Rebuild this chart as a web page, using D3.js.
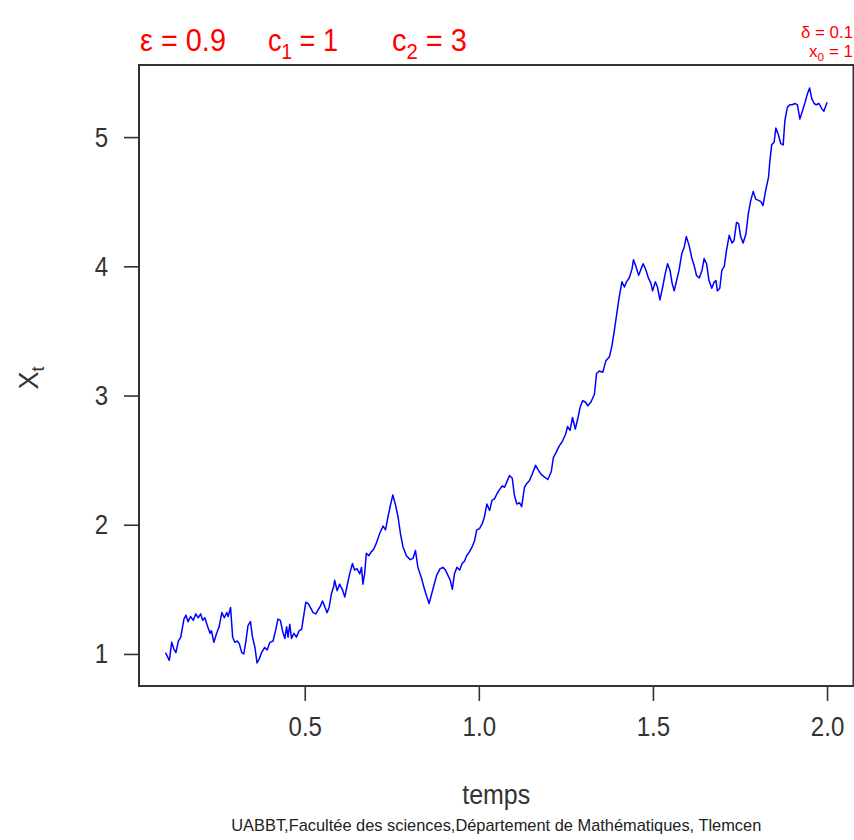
<!DOCTYPE html>
<html>
<head>
<meta charset="utf-8">
<script src="https://cdn.jsdelivr.net/npm/d3@7"></script>
<style>
  body { margin: 0; background: #fff; }
  svg { display: block; font-family: "Liberation Sans", Arial, sans-serif; }
</style>
</head>
<body>
<script>
/////////////////
/// DATA ///
/////////////////

// time points (temps) and path values X_t
var tVals = [0.100, 0.111, 0.118, 0.124, 0.130, 0.137, 0.144, 0.153, 0.159, 0.165,
  0.172, 0.180, 0.187, 0.194, 0.201, 0.207, 0.213, 0.220, 0.228, 0.232,
  0.239, 0.247, 0.254, 0.262, 0.269, 0.276, 0.280, 0.287, 0.293, 0.299,
  0.306, 0.312, 0.319, 0.325, 0.331, 0.337, 0.344, 0.350, 0.357, 0.363,
  0.369, 0.376, 0.385, 0.392, 0.400, 0.409, 0.417, 0.423, 0.430, 0.436,
  0.443, 0.448, 0.452, 0.457, 0.462, 0.469, 0.476, 0.484, 0.491, 0.495,
  0.503, 0.510, 0.516, 0.524, 0.532, 0.538, 0.545, 0.551, 0.557, 0.564,
  0.570, 0.577, 0.583, 0.586, 0.593, 0.600, 0.608, 0.615, 0.621, 0.629,
  0.637, 0.643, 0.650, 0.658, 0.663, 0.667, 0.672, 0.677, 0.684, 0.691,
  0.698, 0.706, 0.715, 0.725, 0.732, 0.739, 0.746, 0.753, 0.761, 0.768,
  0.775, 0.782, 0.792, 0.803, 0.811, 0.818, 0.825, 0.835, 0.844, 0.851,
  0.857, 0.863, 0.870, 0.879, 0.889, 0.897, 0.904, 0.911, 0.918, 0.924,
  0.930, 0.937, 0.945, 0.952, 0.959, 0.965, 0.973, 0.981, 0.988, 0.994,
  1.002, 1.010, 1.016, 1.023, 1.031, 1.038, 1.045, 1.052, 1.059, 1.067,
  1.074, 1.080, 1.088, 1.096, 1.102, 1.109, 1.117, 1.123, 1.131, 1.138,
  1.145, 1.153, 1.163, 1.169, 1.179, 1.188, 1.198, 1.208, 1.214, 1.222,
  1.231, 1.239, 1.249, 1.255, 1.262, 1.269, 1.277, 1.284, 1.291, 1.298,
  1.306, 1.313, 1.322, 1.332, 1.338, 1.346, 1.356, 1.365, 1.375, 1.382,
  1.389, 1.396, 1.403, 1.411, 1.418, 1.424, 1.432, 1.440, 1.444, 1.451,
  1.459, 1.466, 1.472, 1.480, 1.487, 1.494, 1.499, 1.507, 1.513, 1.520,
  1.528, 1.535, 1.542, 1.549, 1.555, 1.561, 1.568, 1.575, 1.583, 1.590,
  1.596, 1.604, 1.612, 1.619, 1.625, 1.633, 1.641, 1.647, 1.654, 1.661,
  1.669, 1.676, 1.681, 1.685, 1.692, 1.698, 1.705, 1.711, 1.719, 1.727,
  1.733, 1.740, 1.746, 1.752, 1.759, 1.767, 1.774, 1.781, 1.788, 1.795,
  1.803, 1.810, 1.816, 1.824, 1.832, 1.836, 1.841, 1.848, 1.853, 1.860,
  1.867, 1.874, 1.879, 1.886, 1.893, 1.900, 1.908, 1.915, 1.922, 1.929,
  1.937, 1.943, 1.950, 1.956, 1.963, 1.969, 1.977, 1.985, 1.991, 2.000];

var xVals = [1.01, 0.95, 1.09, 1.04, 1.01, 1.10, 1.13, 1.27, 1.30, 1.25,
  1.29, 1.26, 1.31, 1.28, 1.31, 1.26, 1.28, 1.22, 1.16, 1.18,
  1.09, 1.16, 1.21, 1.32, 1.28, 1.32, 1.29, 1.36, 1.13, 1.09,
  1.10, 1.08, 1.01, 1.00, 1.10, 1.22, 1.25, 1.13, 1.05, 0.93,
  0.96, 1.01, 1.05, 1.03, 1.09, 1.10, 1.19, 1.27, 1.26, 1.18,
  1.12, 1.21, 1.13, 1.23, 1.12, 1.16, 1.13, 1.18, 1.19, 1.26,
  1.40, 1.39, 1.36, 1.32, 1.31, 1.34, 1.37, 1.41, 1.37, 1.32,
  1.36, 1.47, 1.52, 1.57, 1.49, 1.54, 1.50, 1.44, 1.52, 1.62,
  1.70, 1.65, 1.66, 1.62, 1.67, 1.54, 1.62, 1.78, 1.76, 1.79,
  1.81, 1.86, 1.93, 1.99, 1.96, 2.06, 2.15, 2.23, 2.15, 2.06,
  1.93, 1.83, 1.76, 1.73, 1.74, 1.80, 1.67, 1.59, 1.50, 1.44,
  1.39, 1.45, 1.52, 1.61, 1.66, 1.67, 1.65, 1.61, 1.57, 1.50,
  1.62, 1.67, 1.65, 1.70, 1.72, 1.76, 1.79, 1.83, 1.88, 1.96,
  1.97, 2.01, 2.06, 2.16, 2.11, 2.19, 2.20, 2.24, 2.27, 2.30,
  2.29, 2.33, 2.38, 2.36, 2.23, 2.16, 2.17, 2.14, 2.29, 2.32,
  2.34, 2.39, 2.46, 2.43, 2.39, 2.37, 2.35, 2.41, 2.52, 2.56,
  2.61, 2.64, 2.70, 2.76, 2.73, 2.83, 2.74, 2.82, 2.91, 2.96,
  2.95, 2.92, 2.95, 3.01, 3.17, 3.19, 3.18, 3.27, 3.30, 3.38,
  3.50, 3.63, 3.76, 3.88, 3.84, 3.88, 3.91, 3.98, 4.05, 4.00,
  3.93, 3.98, 4.02, 3.97, 3.91, 3.87, 3.81, 3.88, 3.84, 3.74,
  3.84, 3.94, 4.02, 3.97, 3.87, 3.81, 3.89, 3.97, 4.10, 4.15,
  4.23, 4.16, 4.06, 4.00, 3.93, 3.91, 3.97, 4.06, 4.02, 3.89,
  3.83, 3.88, 3.89, 3.81, 3.83, 3.97, 4.00, 4.12, 4.24, 4.18,
  4.20, 4.34, 4.33, 4.23, 4.18, 4.25, 4.41, 4.51, 4.58, 4.52,
  4.51, 4.50, 4.47, 4.59, 4.69, 4.82, 4.94, 4.96, 5.07, 5.02,
  4.95, 4.94, 5.13, 5.23, 5.25, 5.25, 5.26, 5.25, 5.14, 5.20,
  5.27, 5.33, 5.38, 5.30, 5.26, 5.25, 5.26, 5.22, 5.20, 5.27];

var xTicks = [0.5, 1.0, 1.5, 2.0];
var yTicks = [1, 2, 3, 4, 5];

/////////////////
/// SETUP VIZ ///
/////////////////

var W = 854, H = 840;
var plot = {left: 139, right: 853.5, top: 65, bottom: 686};

var svg = d3.select("body").append("svg")
    .attr("width", W)
    .attr("height", H);

// R style axis extent: data range + 4% each side
function padExtent(vals) {
  var e = d3.extent(vals), d = (e[1] - e[0]) * 0.04;
  return [e[0] - d, e[1] + d];
}

var x = d3.scaleLinear().domain(padExtent(tVals)).range([plot.left, plot.right]);
var y = d3.scaleLinear().domain(padExtent(xVals)).range([plot.bottom, plot.top]);

var line = d3.line()
    .x(function(d, i) { return x(tVals[i]); })
    .y(function(d) { return y(d); });

// the path
svg.append("path")
    .datum(xVals)
    .attr("fill", "none")
    .attr("stroke", "#0000ff")
    .attr("stroke-width", 1.5)
    .attr("stroke-linejoin", "round")
    .attr("d", line);

// box
svg.append("rect")
    .attr("x", plot.left)
    .attr("y", plot.top)
    .attr("width", plot.right - plot.left)
    .attr("height", plot.bottom - plot.top)
    .attr("fill", "none")
    .attr("stroke", "#333")
    .attr("stroke-width", 2);

// x axis
var gx = svg.append("g")
    .attr("transform", "translate(0," + plot.bottom + ")")
    .call(d3.axisBottom(x).tickValues(xTicks).tickFormat(d3.format(".1f"))
      .tickSize(15).tickPadding(15));

// y axis
var gy = svg.append("g")
    .attr("transform", "translate(" + plot.left + ",0)")
    .call(d3.axisLeft(y).tickValues(yTicks).tickFormat(d3.format("d"))
      .tickSize(15).tickPadding(21));

// condensed look of the tick labels
[gx, gy].forEach(function(g) {
  g.select(".domain").remove();
  g.selectAll(".tick line").attr("stroke", "#333").attr("stroke-width", 1.6);
  g.selectAll(".tick text")
    .attr("fill", "#333")
    .attr("transform", "scale(0.86,1)")
    .style("font-size", "28px")
    .style("font-family", "'Liberation Sans', Arial, sans-serif");
});

// axis titles
svg.append("text")
    .attr("x", (plot.left + plot.right) / 2)
    .attr("y", 804)
    .attr("text-anchor", "middle")
    .attr("fill", "#333")
    .attr("textLength", 68)
    .attr("lengthAdjust", "spacingAndGlyphs")
    .style("font-size", "27px")
    .text("temps");

var ylab = svg.append("text")
    .attr("transform", "translate(38,378) rotate(-90)")
    .attr("text-anchor", "middle")
    .attr("fill", "#333")
    .style("font-size", "27px");
ylab.append("tspan").text("X");
ylab.append("tspan").attr("dy", 6).style("font-size", "18px").text("t");

// subtitle
svg.append("text")
    .attr("x", (plot.left + plot.right) / 2)
    .attr("y", 831)
    .attr("text-anchor", "middle")
    .attr("fill", "#222")
    .attr("textLength", 530)
    .attr("lengthAdjust", "spacingAndGlyphs")
    .style("font-size", "17px")
    .text("UABBT,Facultée des sciences,Département de Mathématiques, Tlemcen");

// red parameter labels on top, squeezed horizontally to the width seen
function param(xpos, ypos, main, sub, rest, size, width, anchor) {
  var g = svg.append("g");
  var t = g.append("text")
      .attr("fill", "#ff0000")
      .attr("text-anchor", anchor || "start")
      .style("font-size", size + "px");
  t.append("tspan").text(main);
  if (sub) {
    t.append("tspan").attr("dy", size * 0.25).style("font-size", (size * 0.7) + "px").text(sub);
    t.append("tspan").attr("dy", -size * 0.25).text(rest);
  }
  var k = width / t.node().getComputedTextLength();
  g.attr("transform", "translate(" + xpos + "," + ypos + ") scale(" + k + ",1)");
  return t;
}

param(140, 51, "\u03b5 = 0.9", null, null, 31, 86);
param(268, 51, "c", "1", " = 1", 31, 70);
param(392, 51, "c", "2", " = 3", 31, 75);
param(853, 38, "\u03b4 = 0.1", null, null, 16, 52, "end");
param(853, 57, "x", "0", " = 1", 16, 44, "end");
</script>
</body>
</html>
